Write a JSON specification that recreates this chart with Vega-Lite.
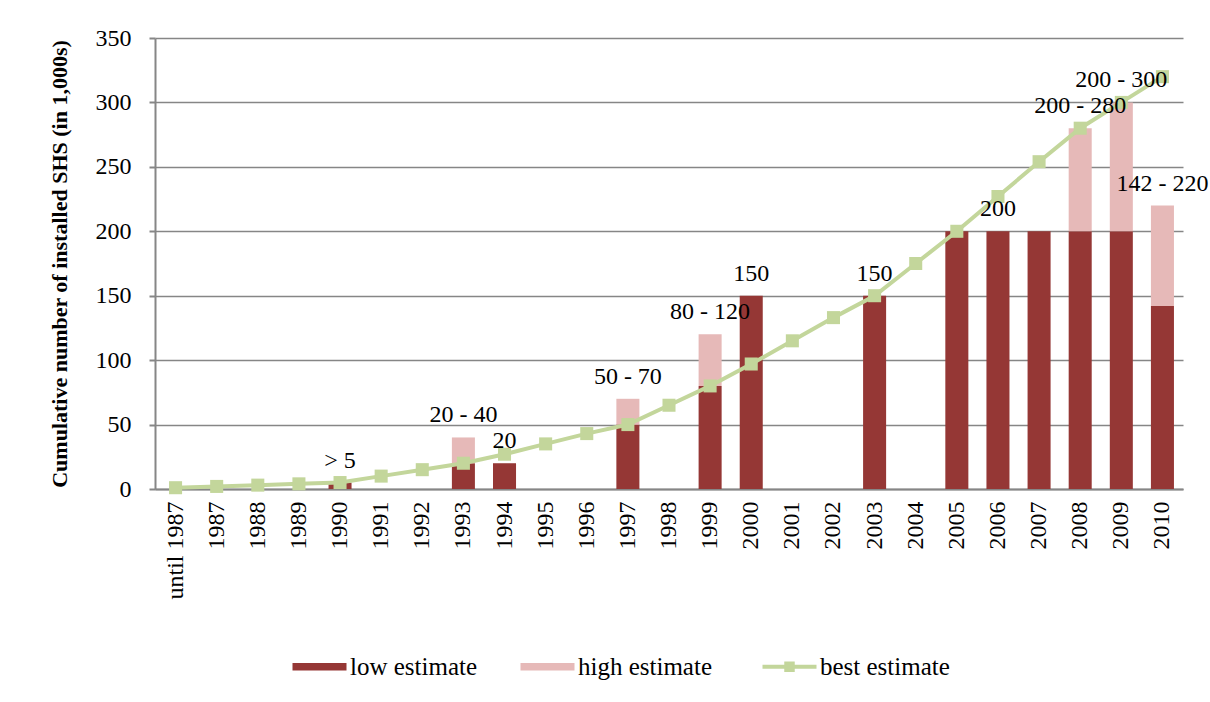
{
  "$schema": "https://vega.github.io/schema/vega-lite/v6.json",
  "width": 1028,
  "height": 451,
  "autosize": {"type": "none"},
  "padding": {"left": 155, "top": 38, "right": 27, "bottom": 213},
  "background": "white",
  "config": {
    "font": "Liberation Serif",
    "view": {"stroke": null},
    "axis": {
      "labelFont": "Liberation Serif",
      "labelFontSize": 24,
      "labelColor": "#000000",
      "titleFont": "Liberation Serif",
      "domainColor": "#868686",
      "domainWidth": 2,
      "tickColor": "#868686",
      "tickWidth": 2,
      "gridColor": "#868686",
      "gridWidth": 1.5
    }
  },
  "data": {
    "values": [
      {"period": "until 1987", "low": null, "high": null, "best": 1, "label": null},
      {"period": "1987", "low": null, "high": null, "best": 2, "label": null},
      {"period": "1988", "low": null, "high": null, "best": 3, "label": null},
      {"period": "1989", "low": null, "high": null, "best": 4, "label": null},
      {"period": "1990", "low": 5, "high": null, "best": 5, "label": "> 5"},
      {"period": "1991", "low": null, "high": null, "best": 10, "label": null},
      {"period": "1992", "low": null, "high": null, "best": 15, "label": null},
      {"period": "1993", "low": 20, "high": 40, "best": 20, "label": "20 - 40"},
      {"period": "1994", "low": 20, "high": null, "best": 27, "label": "20"},
      {"period": "1995", "low": null, "high": null, "best": 35, "label": null},
      {"period": "1996", "low": null, "high": null, "best": 43, "label": null},
      {"period": "1997", "low": 50, "high": 70, "best": 50, "label": "50 - 70"},
      {"period": "1998", "low": null, "high": null, "best": 65, "label": null},
      {"period": "1999", "low": 80, "high": 120, "best": 80, "label": "80 - 120"},
      {"period": "2000", "low": 150, "high": null, "best": 97, "label": "150"},
      {"period": "2001", "low": null, "high": null, "best": 115, "label": null},
      {"period": "2002", "low": null, "high": null, "best": 133, "label": null},
      {"period": "2003", "low": 150, "high": null, "best": 150, "label": "150"},
      {"period": "2004", "low": null, "high": null, "best": 175, "label": null},
      {"period": "2005", "low": 200, "high": null, "best": 200, "label": null},
      {"period": "2006", "low": 200, "high": null, "best": 227, "label": "200"},
      {"period": "2007", "low": 200, "high": null, "best": 254, "label": null},
      {"period": "2008", "low": 200, "high": 280, "best": 280, "label": "200 - 280"},
      {"period": "2009", "low": 200, "high": 300, "best": 300, "label": "200 - 300"},
      {"period": "2010", "low": 142, "high": 220, "best": 320, "label": "142 - 220"}
    ]
  },
  "encoding": {
    "x": {
      "field": "period",
      "type": "nominal",
      "sort": null,
      "scale": {
        "domain": ["until 1987", "1987", "1988", "1989", "1990", "1991", "1992", "1993", "1994", "1995", "1996", "1997", "1998", "1999", "2000", "2001", "2002", "2003", "2004", "2005", "2006", "2007", "2008", "2009", "2010"],
        "paddingInner": 0.44,
        "paddingOuter": 0.22
      },
      "axis": {
        "title": null,
        "labelAngle": -90,
        "ticks": false,
        "labelPadding": 12,
        "grid": false
      }
    }
  },
  "layer": [
    {
      "transform": [{"filter": "datum.low != null"}],
      "mark": {"type": "bar"},
      "encoding": {
        "y": {
          "field": "low",
          "type": "quantitative",
          "scale": {"domain": [0, 350], "nice": false},
          "axis": {
            "values": [0, 50, 100, 150, 200, 250, 300, 350],
            "title": "Cumulative number of installed SHS (in 1,000s)",
            "titleFontSize": 22,
            "titleFontWeight": "bold",
            "titleColor": "#000000",
            "titlePadding": 24,
            "tickSize": 6,
            "labelPadding": 18,
            "grid": true
          }
        },
        "color": {
          "datum": "low estimate",
          "type": "nominal",
          "scale": {
            "domain": ["low estimate", "high estimate", "best estimate"],
            "range": ["#953735", "#E6B9B8", "#C3D69B"]
          },
          "legend": {
            "title": null,
            "orient": "none",
            "direction": "horizontal",
            "legendX": 152,
            "legendY": 616,
            "labelFont": "Liberation Serif",
            "labelFontSize": 25,
            "labelColor": "#000000",
            "labelOffset": 18,
            "columnPadding": 42,
            "symbolSize": 729,
            "encode": {
              "symbols": {
                "update": {
                  "shape": {"signal": "datum.value === 'best estimate' ? 'M-2,0H2M-0.24,-0.24H0.24V0.24H-0.24Z' : 'M-2,-0.27H2V0.27H-2Z'"},
                  "fill": {"signal": "datum.value === 'low estimate' ? '#953735' : datum.value === 'high estimate' ? '#E6B9B8' : '#C3D69B'"},
                  "stroke": {"signal": "datum.value === 'best estimate' ? '#C3D69B' : 'transparent'"},
                  "strokeWidth": {"signal": "datum.value === 'best estimate' ? 4 : 0"},
                  "opacity": {"value": 1},
                  "fillOpacity": {"value": 1},
                  "strokeOpacity": {"value": 1}
                }
              }
            }
          }
        }
      }
    },
    {
      "transform": [{"filter": "datum.high != null"}],
      "mark": {"type": "bar"},
      "encoding": {
        "y": {"field": "low", "type": "quantitative"},
        "y2": {"field": "high"},
        "color": {"datum": "high estimate", "type": "nominal"}
      }
    },
    {
      "mark": {
        "type": "line",
        "strokeWidth": 4,
        "point": {"shape": "square", "size": 170, "filled": true, "opacity": 1}
      },
      "encoding": {
        "y": {"field": "best", "type": "quantitative"},
        "color": {"datum": "best estimate", "type": "nominal"}
      }
    },
    {
      "transform": [{"filter": "datum.label != null && datum.high != null"}],
      "mark": {"type": "text", "fontSize": 24, "font": "Liberation Serif", "color": "#000000", "baseline": "middle", "dy": -22},
      "encoding": {
        "y": {"field": "high", "type": "quantitative"},
        "text": {"field": "label"}
      }
    },
    {
      "transform": [{"filter": "datum.label != null && datum.high == null"}],
      "mark": {"type": "text", "fontSize": 24, "font": "Liberation Serif", "color": "#000000", "baseline": "middle", "dy": -22},
      "encoding": {
        "y": {"field": "low", "type": "quantitative"},
        "text": {"field": "label"}
      }
    }
  ]
}
